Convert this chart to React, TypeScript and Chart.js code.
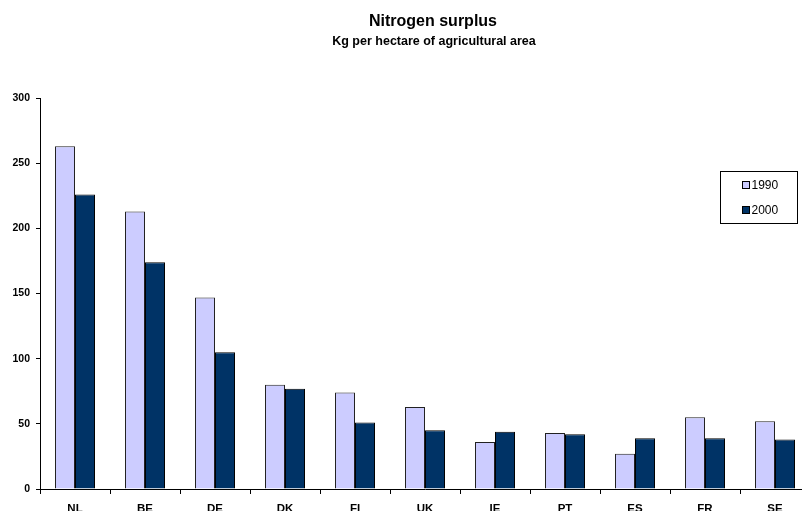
import React, { useEffect, useRef } from "react";
import { Chart, registerables } from "chart.js";

Chart.register(...registerables);

const categories = ["NL", "BE", "DE", "DK", "FI", "UK", "IE", "PT", "ES", "FR", "SE"];
const values1990 = [263, 213, 147, 80, 74, 63, 36, 43, 27, 55, 52];
const values2000 = [226, 174, 105, 77, 51, 45, 44, 42, 39, 39, 38];
const seriesLabels = ["1990", "2000"];
const titleText = "Nitrogen surplus";
const subtitleText = "Kg per hectare of agricultural area";

const FONT = '"Liberation Sans", Arial, sans-serif';

const decorPlugin = {
  id: "decor",
  afterDraw(chart: any) {
    const ctx = chart.ctx;
    ctx.save();
    ctx.fillStyle = "#000";
    ctx.textAlign = "center";
    ctx.textBaseline = "alphabetic";
    ctx.font = `bold 16px ${FONT}`;
    ctx.fillText(titleText, 433, 26);
    ctx.font = `bold 12.5px ${FONT}`;
    ctx.fillText(subtitleText, 434, 45);

    // legend box
    const bx = 720.5, by = 171.5, bw = 77, bh = 52;
    ctx.strokeStyle = "#000";
    ctx.lineWidth = 1;
    ctx.strokeRect(bx, by, bw, bh);
    ctx.textAlign = "left";
    ctx.textBaseline = "middle";
    ctx.font = `12px ${FONT}`;
    chart.data.datasets.forEach((ds: any, i: number) => {
      const cy = 185.5 + i * 25;
      ctx.fillStyle = ds.backgroundColor;
      ctx.fillRect(742.5, cy - 4, 7, 7);
      ctx.strokeStyle = "#000";
      ctx.strokeRect(742.5, cy - 4, 7, 7);
      ctx.fillStyle = "#000";
      ctx.fillText(ds.label, 751.5, cy);
    });
    ctx.restore();
  },
};

export default function App() {
  const ref = useRef<HTMLCanvasElement>(null);
  useEffect(() => {
    if (!ref.current) return;
    const yFont = { family: FONT, size: 10.5, weight: "bold" as const };
    const xFont = { family: FONT, size: 11.5, weight: "bold" as const };
    const chart = new Chart(ref.current, {
      type: "bar",
      data: {
        labels: categories,
        datasets: [
          {
            label: seriesLabels[0],
            data: values1990,
            backgroundColor: "#CCCCFF",
            borderColor: "#222222",
            borderWidth: 1,
            categoryPercentage: 40 / 70,
            barPercentage: 1,
          },
          {
            label: seriesLabels[1],
            data: values2000,
            backgroundColor: "#003366",
            borderColor: "#000000",
            borderWidth: 1,
            categoryPercentage: 40 / 70,
            barPercentage: 1,
          },
        ],
      },
      options: {
        animation: false,
        responsive: false,
        devicePixelRatio: 1,
        layout: { padding: { top: 98, right: 56, left: 0, bottom: 0 } },
        plugins: {
          legend: { display: false },
          title: { display: false },
          tooltip: { enabled: false },
        },
        scales: {
          x: {
            offset: true,
            grid: { offset: true, drawOnChartArea: false, tickLength: 5, color: "#000" },
            border: { color: "#000", width: 1 },
            ticks: { font: xFont, color: "#000", padding: 8, maxRotation: 0, autoSkip: false },
            afterFit: (s: any) => {
              s.height = 41;
            },
          },
          y: {
            min: 0,
            max: 300,
            ticks: { stepSize: 50, font: yFont, color: "#000", padding: 6 },
            grid: { drawOnChartArea: false, tickLength: 4, color: "#000" },
            border: { color: "#000", width: 1 },
            afterFit: (s: any) => {
              s.width = 40;
            },
          },
        },
      },
      plugins: [decorPlugin],
    });
    return () => chart.destroy();
  }, []);

  return (
    <div
      style={{
        position: "fixed",
        left: 0,
        top: 0,
        width: 802,
        height: 511,
        overflow: "hidden",
        background: "#fff",
      }}
    >
      <canvas ref={ref} width={866} height={530} style={{ display: "block", width: 866, height: 530 }} />
    </div>
  );
}
